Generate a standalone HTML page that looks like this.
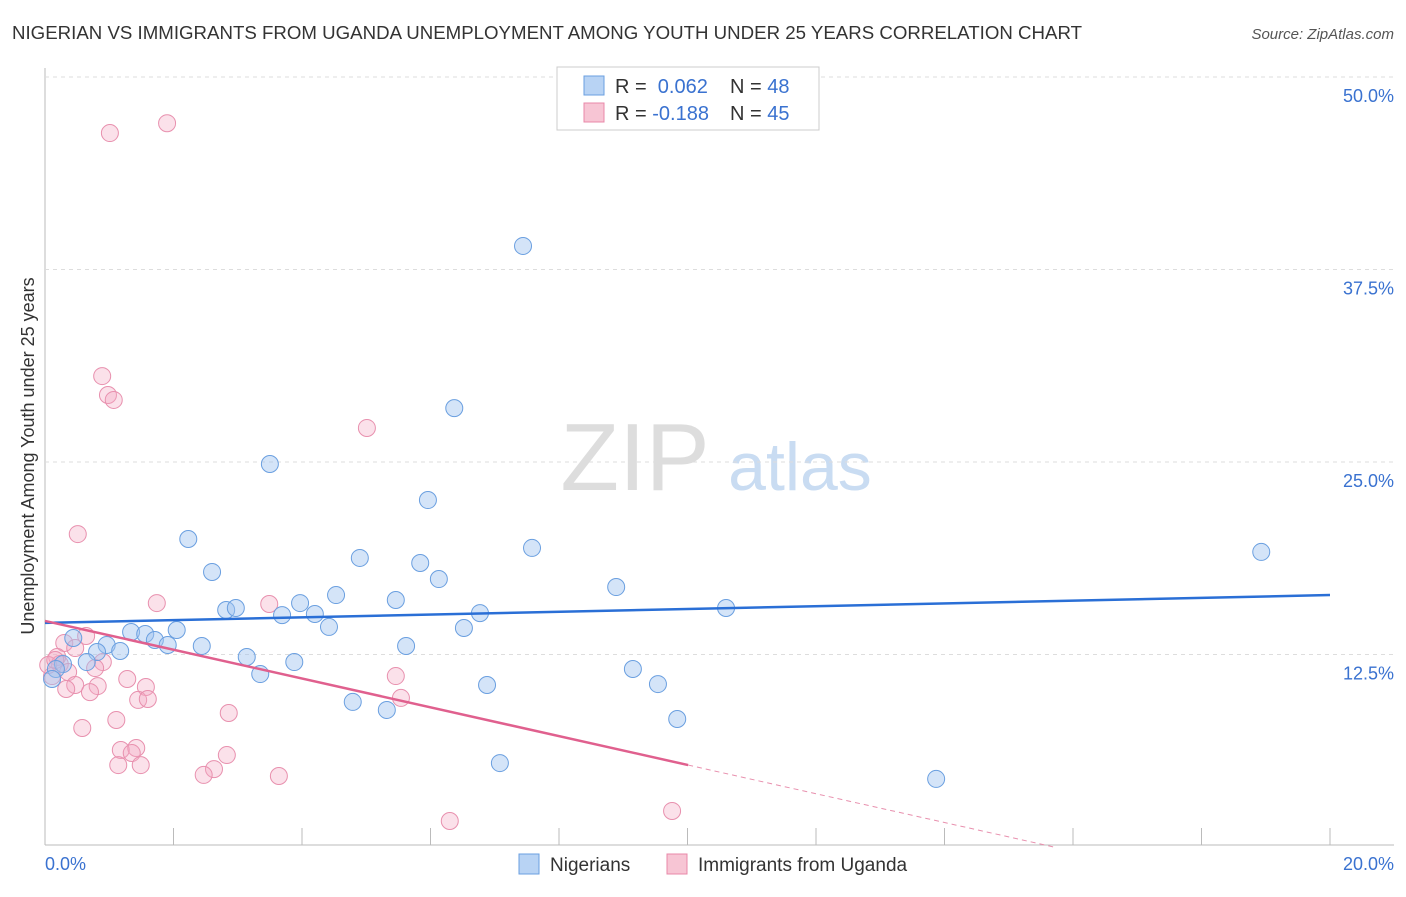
<!DOCTYPE html>
<html><head><meta charset="utf-8"><style>
body{margin:0;background:#fff;font-family:"Liberation Sans",sans-serif}
svg text{font-family:"Liberation Sans",sans-serif}
</style></head><body>
<svg id="c" width="1406" height="892" xmlns="http://www.w3.org/2000/svg">
<text x="12" y="39" font-size="18" fill="#333" textLength="1070" lengthAdjust="spacingAndGlyphs">NIGERIAN VS IMMIGRANTS FROM UGANDA UNEMPLOYMENT AMONG YOUTH UNDER 25 YEARS CORRELATION CHART</text>
<text x="1394" y="39" font-size="15" fill="#555" font-style="italic" text-anchor="end">Source: ZipAtlas.com</text>
<text x="635" y="490" font-size="96" fill="#ddd" font-family="Liberation Serif" text-anchor="middle">ZIP</text>
<text x="800" y="490" font-size="68" fill="#c9dcf2" text-anchor="middle">atlas</text>
<text transform="translate(34,456) rotate(-90)" font-size="18" fill="#333" text-anchor="middle">Unemployment Among Youth under 25 years</text>
<g id="grid"></g><g id="pts"></g><g id="lines"></g>
<rect x="557" y="67" width="262" height="63" fill="#fff" stroke="#ccc"/>
<rect x="584" y="76" width="20" height="19" fill="#b8d3f4" stroke="#6a9fe0"/>
<rect x="584" y="103" width="20" height="19" fill="#f7c5d4" stroke="#e888a8"/>
<text x="615" y="93" font-size="20" fill="#333">R = <tspan fill="#3a72d0">&#160;0.062</tspan><tspan x="730">N = </tspan><tspan fill="#3a72d0">48</tspan></text>
<text x="615" y="120" font-size="20" fill="#333">R = <tspan fill="#3a72d0">-0.188</tspan><tspan x="730">N = </tspan><tspan fill="#3a72d0">45</tspan></text>
<rect x="519" y="854" width="20" height="20" fill="#b8d3f4" stroke="#6a9fe0"/>
<text x="550" y="871" font-size="19" fill="#333">Nigerians</text>
<rect x="667" y="854" width="20" height="20" fill="#f7c5d4" stroke="#e888a8"/>
<text x="698" y="871" font-size="19" fill="#333">Immigrants from Uganda</text>
<text x="45" y="870" font-size="18" fill="#3a72d0">0.0%</text>
<text x="1394" y="870" font-size="18" fill="#3a72d0" text-anchor="end">20.0%</text>
</svg>
<script>
const yTicks=[12.5,25,37.5,50];
const yTickLabels=["12.5%","25.0%","37.5%","50.0%"];
const xTicks=[0,2,4,6,8,10,12,14,16,18,20];
const nigX=[7.44,6.37,3.50,5.96,2.23,7.58,18.93,4.90,5.84,2.60,6.13,8.89,4.53,5.46,3.97,2.82,2.97,10.60,6.77,3.69,4.20,4.42,6.52,2.05,1.34,1.56,1.71,1.91,0.96,2.44,5.62,1.17,0.81,0.44,3.14,0.65,0.28,3.88,9.15,3.35,0.17,0.11,9.54,6.88,4.79,5.32,9.84,7.08,13.87];
const nigY=[39.03,28.5,24.87,22.53,20.0,19.42,19.16,18.77,18.44,17.86,17.4,16.88,16.36,16.04,15.84,15.39,15.52,15.52,15.19,15.06,15.13,14.29,14.22,14.09,13.96,13.83,13.44,13.12,13.12,13.05,13.05,12.73,12.66,13.57,12.34,12.01,11.88,12.01,11.56,11.23,11.56,10.91,10.58,10.52,9.42,8.9,8.31,5.45,4.42];
const ugX=[1.01,1.90,0.89,0.98,1.07,5.01,0.51,1.74,3.49,0.64,0.30,0.47,0.19,0.23,0.90,0.78,0.36,0.11,1.28,5.46,0.47,0.82,1.57,0.33,0.70,1.45,1.60,5.54,2.86,1.11,0.58,1.18,1.42,1.35,2.83,1.14,1.49,2.63,2.47,3.64,9.76,6.30,0.05,0.16];
const ugY=[46.36,47.0,30.58,29.35,29.03,27.21,20.32,15.84,15.78,13.7,13.25,12.92,12.34,11.88,12.01,11.62,11.36,11.1,10.91,11.1,10.52,10.45,10.39,10.26,10.06,9.55,9.61,9.68,8.7,8.25,7.73,6.3,6.43,6.1,5.97,5.32,5.32,5.06,4.68,4.61,2.34,1.69,11.82,12.14];
const blueLine=[14.55,16.36];
const pinkA=14.68,pinkSlope=-0.935,pinkSolidEnd=10.01;
const ns="http://www.w3.org/2000/svg";
const X=v=>45+v*64.25, Y=v=>847-v*15.4;
function mk(t,a,p){const e=document.createElementNS(ns,t);for(const k in a)e.setAttribute(k,a[k]);document.getElementById(p).appendChild(e);return e;}
let ax=mk('line',{x1:45,y1:68,x2:45,y2:845,stroke:'#bbb'},'grid');


let bx=mk('line',{x1:45,y1:845,x2:1394,y2:845,stroke:'#bbb'},'grid');


yTicks.forEach((t,i)=>{
 let g=mk('line',{x1:45,x2:1394,y1:Y(t),y2:Y(t),stroke:'#ddd','stroke-dasharray':'4,4'},'grid');
 
 
 let l=mk('text',{x:1394,y:Y(t)+25,'font-size':18,fill:'#3a72d0','text-anchor':'end'},'grid');
 l.textContent=yTickLabels[i];
 
 
});
xTicks.forEach(t=>{
 let k=mk('line',{x1:X(t),x2:X(t),y1:828,y2:845,stroke:'#bbb'},'grid');
 
 
});
ugX.forEach((v,i)=>{
 let c=mk('circle',{cx:X(v),cy:Y(ugY[i]),r:8.5,fill:'rgba(244,170,195,0.35)',stroke:'#e890ae','stroke-width':1},'pts');
 
 
});
nigX.forEach((v,i)=>{
 let c=mk('circle',{cx:X(v),cy:Y(nigY[i]),r:8.5,fill:'rgba(160,195,240,0.45)',stroke:'#6a9fe0','stroke-width':1},'pts');
 
 
});
let bl=mk('line',{x1:X(0),y1:Y(blueLine[0]),x2:X(20),y2:Y(blueLine[1]),stroke:'#2a6fd6','stroke-width':2.5},'lines');


let pl=mk('line',{x1:X(0),y1:Y(pinkA),x2:X(pinkSolidEnd),y2:Y(pinkA+pinkSlope*pinkSolidEnd),stroke:'#e0608e','stroke-width':2.5},'lines');


const xz=-pinkA/pinkSlope;
let pd=mk('line',{x1:X(pinkSolidEnd),y1:Y(pinkA+pinkSlope*pinkSolidEnd),x2:X(xz),y2:Y(0),stroke:'#e890ae','stroke-width':1,'stroke-dasharray':'5,4'},'lines');


</script>
</body></html>
